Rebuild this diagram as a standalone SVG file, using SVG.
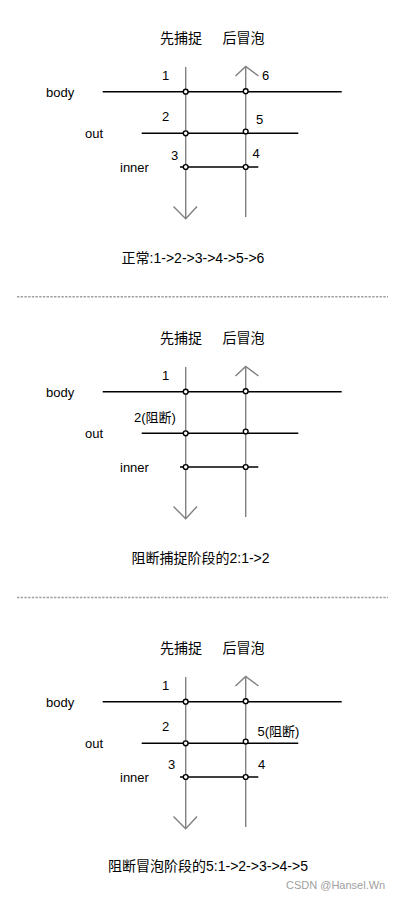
<svg xmlns="http://www.w3.org/2000/svg" xmlns:xlink="http://www.w3.org/1999/xlink" width="400" height="900" viewBox="0 0 400 900">
<style>
text{font-family:"Liberation Sans","Noto Sans CJK SC",Arial,sans-serif;fill:#000;}
.t{font-size:14px;}
.l{font-size:13px;}
.cap{font-size:14px;text-anchor:middle;}
.arrow{stroke:#808080;stroke-width:1.4;fill:none;}
.h{stroke:#000;stroke-width:1.5;fill:none;}
.dot{stroke:#000;stroke-width:1.4;fill:#fff;}
.sep{stroke:#a0a0a0;stroke-width:1.5;stroke-dasharray:2.4 1.3;fill:none;}
</style>
<defs>
<g id="frame">
<g class="connectors">
<line class="arrow" x1="185.7" y1="67" x2="185.7" y2="218"/>
<polyline class="arrow" points="173.5,206.5 185.7,218.7 197,206.5"/>
<line class="arrow" x1="245.7" y1="67" x2="245.7" y2="217"/>
<polyline class="arrow" points="235.5,76 245.7,66.5 258.5,76"/>
</g>
<line class="h" x1="102.7" y1="91.7" x2="341.7" y2="91.7"/>
<line class="h" x1="141.7" y1="133.3" x2="298.3" y2="133.3"/>
<line class="h" x1="180" y1="167" x2="258.3" y2="167"/>
<circle class="dot" cx="185.7" cy="91.7" r="2.4"/>
<circle class="dot" cx="245.7" cy="91.2" r="2.4"/>
<circle class="dot" cx="185.7" cy="133.3" r="2.4"/>
<circle class="dot" cx="245.7" cy="131.5" r="2.4"/>
<circle class="dot" cx="185.7" cy="167" r="2.4"/>
<circle class="dot" cx="245.7" cy="167" r="2.4"/>
<text class="t" x="160" y="43">先捕捉</text>
<text class="t" x="222.5" y="43">后冒泡</text>
<text class="l" x="46" y="97">body</text>
<text class="l" x="85" y="137.5">out</text>
<text class="l" x="120" y="172">inner</text>
</g>
</defs>

<g id="panel1">
<use xlink:href="#frame"/>
<g id="p1-labels">
<text class="l" x="162" y="80">1</text>
<text class="l" x="262" y="80">6</text>
<text class="l" x="162" y="120.5">2</text>
<text class="l" x="256" y="124">5</text>
<text class="l" x="171" y="160">3</text>
<text class="l" x="252.5" y="158">4</text>
</g>
<text class="cap" x="193" y="263">正常:1-&gt;2-&gt;3-&gt;4-&gt;5-&gt;6</text>
</g>

<line id="sep1" class="sep" x1="17" y1="296.7" x2="388" y2="296.7"/>

<g id="panel2" transform="translate(0,300)">
<use xlink:href="#frame"/>
<g id="p2-labels">
<text class="l" x="162" y="80">1</text>
<text class="l" x="134" y="122">2(阻断)</text>
</g>
<text class="cap" x="200.5" y="263">阻断捕捉阶段的2:1-&gt;2</text>
</g>

<line id="sep2" class="sep" x1="17" y1="597.5" x2="388" y2="597.5"/>

<g id="panel3" transform="translate(0,610)">
<use xlink:href="#frame"/>
<g id="p3-labels">
<text class="l" x="162" y="80">1</text>
<text class="l" x="162" y="120.5">2</text>
<text class="l" x="257.5" y="126">5(阻断)</text>
<text class="l" x="168" y="159">3</text>
<text class="l" x="258" y="159">4</text>
</g>
<text class="cap" x="208" y="261">阻断冒泡阶段的5:1-&gt;2-&gt;3-&gt;4-&gt;5</text>
</g>

<text id="watermark" x="286" y="889" style="font-size:11px;fill:#a0a0a0;">CSDN @Hansel.Wn</text>
</svg>
